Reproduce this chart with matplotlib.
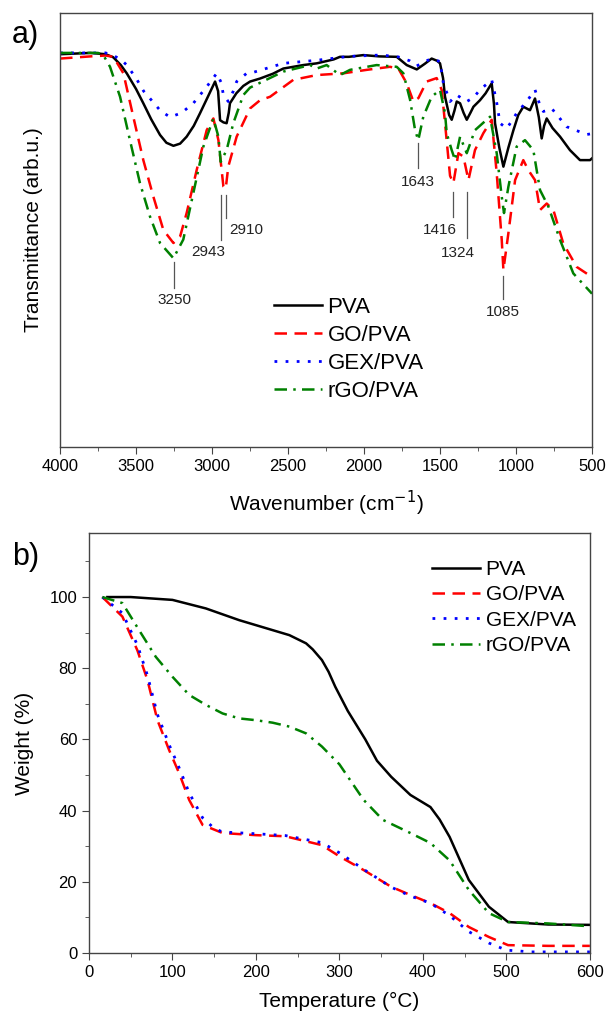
import matplotlib
matplotlib.use('Agg')
import matplotlib.pyplot as plt
from matplotlib.ticker import MultipleLocator, NullLocator

plt.rcParams['font.family'] = ['Liberation Sans', 'DejaVu Sans']

# ---- FTIR spectra (a) : wavenumber, transmittance (arb.u.)
pva_wn = [4000, 3800, 3700, 3650, 3600, 3561, 3500, 3452, 3400, 3342, 3300, 3254, 3210, 3167,
          3120, 3079, 3030, 2980, 2960, 2947, 2925, 2904, 2890, 2882, 2840, 2794, 2750, 2684,
          2600, 2531, 2400, 2311, 2200, 2158, 2100, 2004, 1900, 1785, 1719, 1653, 1600, 1555,
          1520, 1500, 1480, 1467, 1440, 1423, 1405, 1390, 1368, 1345, 1324, 1300, 1280, 1237,
          1200, 1160, 1145, 1138, 1110, 1083, 1050, 1017, 985, 952, 908, 875, 850, 831, 815,
          798, 760, 710, 645, 579, 513, 500]
pva_tr = [90.5, 90.8, 90.5, 89.8, 88.0, 86.1, 82.5, 79.2, 75.5, 71.9, 70.1, 69.4, 69.9, 71.5,
          74.0, 76.9, 80.5, 84.2, 82.0, 75.3, 74.8, 74.6, 77.0, 79.2, 81.5, 83.2, 84.2, 84.9,
          86.0, 87.2, 88.0, 88.4, 89.3, 89.9, 89.9, 90.3, 90.0, 89.9, 88.0, 87.0, 88.3, 89.5,
          89.0, 88.4, 85.0, 80.7, 76.5, 75.4, 77.5, 79.6, 79.2, 77.0, 75.4, 77.0, 78.4, 79.9,
          81.5, 83.8, 79.0, 74.6, 69.0, 64.6, 69.0, 73.0, 76.5, 78.4, 77.6, 80.3, 76.0, 71.1, 74.0,
          75.7, 73.5, 71.5, 68.4, 66.1, 66.1, 66.5]

go_wn = [4000, 3800, 3700, 3649, 3583, 3518, 3452, 3386, 3320, 3254, 3210, 3167, 3101, 3035,
         2991, 2958, 2925, 2910, 2893, 2838, 2750, 2684, 2618, 2465, 2311, 2136, 1982, 1829,
         1774, 1719, 1675, 1642, 1588, 1522, 1489, 1467, 1434, 1412, 1379, 1346, 1313, 1270,
         1215, 1160, 1127, 1094, 1083, 1050, 1006, 952, 919, 875, 842, 798, 754, 689, 601, 502, 500]
go_tr = [89.5, 90.0, 90.2, 89.9, 86.1, 76.1, 66.1, 57.7, 50.0, 47.0, 48.5, 53.9, 63.8, 73.0,
         75.7, 70.7, 60.0, 59.5, 64.6, 71.5, 78.0, 79.9, 80.7, 84.6, 85.7, 86.1, 86.9, 87.6,
         87.2, 83.8, 79.6, 80.4, 84.2, 85.0, 82.3, 74.6, 62.5, 60.8, 67.7, 66.9, 61.5, 68.4,
         72.3, 75.4, 63.1, 47.8, 40.8, 49.3, 61.5, 66.1, 63.8, 61.5, 54.6, 56.1, 54.6, 46.9, 41.5, 39.2, 39.0]

gex_wn = [4000, 3700, 3650, 3600, 3561, 3500, 3450, 3408, 3340, 3276, 3200, 3123, 3035, 2969,
          2940, 2925, 2893, 2860, 2838, 2772, 2750, 2531, 2311, 2100, 1900, 1785, 1700, 1653,
          1600, 1555, 1500, 1478, 1434, 1390, 1324, 1280, 1237, 1160, 1130, 1105, 1061, 1030,
          996, 930, 875, 845, 820, 765, 667, 535, 500]
gex_tr = [90.8, 90.8, 90.2, 89.3, 88.0, 85.0, 82.0, 80.3, 77.5, 76.0, 77.0, 79.2, 83.0, 86.1,
          84.0, 81.1, 79.6, 82.0, 84.2, 86.1, 86.1, 88.4, 89.1, 90.0, 90.3, 90.0, 89.0, 87.8,
          88.8, 89.5, 88.8, 83.8, 79.6, 81.1, 79.6, 80.5, 82.3, 84.6, 80.0, 74.6, 73.4, 75.0,
          76.9, 79.6, 82.3, 79.0, 77.3, 78.0, 73.8, 72.0, 72.2]

rgo_wn = [4000, 3750, 3715, 3671, 3605, 3540, 3474, 3408, 3342, 3254, 3189, 3123, 3057, 2991,
          2958, 2943, 2904, 2860, 2794, 2750, 2531, 2355, 2311, 2246, 2158, 2092, 1917, 1785,
          1741, 1697, 1664, 1643, 1610, 1555, 1500, 1467, 1456, 1423, 1401, 1368, 1324, 1270,
          1171, 1127, 1094, 1079, 1050, 996, 941, 886, 842, 787, 710, 623, 502, 500]
rgo_tr = [90.8, 90.8, 90.3, 87.6, 80.7, 70.7, 60.8, 53.1, 47.0, 43.5, 47.8, 58.5, 69.2, 75.7,
          71.5, 65.7, 68.4, 74.6, 81.1, 82.8, 86.5, 88.0, 87.2, 88.0, 85.7, 86.9, 88.0, 87.6,
          86.1, 80.0, 73.0, 70.7, 76.1, 80.7, 82.3, 76.9, 72.3, 68.4, 66.1, 71.5, 67.7, 73.0,
          76.1, 67.7, 57.7, 53.9, 60.0, 69.2, 70.7, 68.4, 59.2, 55.4, 47.7, 40.0, 35.4, 35.3]

# peak markers: label, line start/end, text position
peak_labels = ['3250', '2943', '2910', '1643', '1416', '1324', '1085']
peak_wn = [3250, 2943, 2910, 1643, 1416, 1324, 1085]
peak_top = [42.6, 58.1, 58.1, 70.0, 58.8, 58.8, 39.4]
peak_bot = [36.6, 47.7, 52.8, 64.3, 53.0, 48.2, 34.1]
label_wn = [3250, 3026, 2888, 1643, 1500, 1381, 1085]
label_y = [33.9, 44.9, 50.0, 61.1, 50.0, 44.7, 31.1]
label_ha = ['center', 'center', 'left', 'center', 'center', 'center', 'center']

# ---- TGA (b) : temperature, weight %
pva_t = [22, 50, 100, 140, 180, 220, 240, 260, 268, 279, 287, 295, 310, 331, 345, 362, 385,
         409, 420, 432, 455, 479, 502, 550, 600]
pva_w = [100, 100, 99.2, 96.8, 93.5, 90.7, 89.3, 87, 85.3, 82.3, 79, 74.8, 68, 60, 54, 49.5,
         44.4, 41, 37.5, 32.6, 20.5, 13, 8.7, 8.0, 7.9]
go_t = [16, 40, 58, 70, 82, 96, 108, 120, 136, 160, 200, 235, 279, 301, 329, 362, 385, 409,
        432, 455, 479, 502, 550, 600]
go_w = [100, 94.5, 85, 76.7, 65.4, 57, 50.5, 43, 36, 33.7, 33.1, 32.8, 30.3, 27, 23.3, 18.6,
        16.3, 14, 11.2, 7.3, 4.5, 2.2, 2.0, 2.0]
gex_t = [16, 40, 58, 70, 82, 96, 108, 120, 136, 150, 160, 200, 235, 279, 301, 329, 362, 385,
         409, 432, 455, 479, 500, 530, 600]
gex_w = [100, 95.5, 86.5, 78, 67, 58.5, 52, 45, 38, 35, 34, 33.5, 33, 31, 28, 23.5, 18.5, 16,
         14, 10.5, 6, 2.8, 0.8, 0.3, 0.3]
rgo_t = [16, 40, 60, 80, 100, 120, 140, 160, 180, 200, 220, 240, 260, 279, 300, 329, 352, 385,
         409, 432, 455, 479, 502, 550, 600]
rgo_w = [100, 98.3, 90.7, 83.2, 77.6, 72.5, 69.7, 67.3, 65.9, 65.4, 64.7, 63.6, 61.7, 58, 53,
         43, 37.4, 33.7, 30.9, 26, 17.7, 11.2, 8.7, 8.3, 7.5]

names = ['PVA', 'GO/PVA', 'GEX/PVA', 'rGO/PVA']
colors = ['black', 'red', 'blue', 'green']
styles = [dict(ls='-', lw=1.8),
          dict(ls=(0, (5, 3)), lw=1.8),
          dict(ls=(0, (1, 3)), lw=2.0),
          dict(ls=(0, (5, 2.5, 1, 2.5)), lw=1.8)]

fig = plt.figure(figsize=(6.1, 10.15), dpi=100)
ax1 = fig.add_axes([0.0984, 0.5596, 0.8721, 0.4276])
ax2 = fig.add_axes([0.1459, 0.0611, 0.8211, 0.4138])

for wn, tr, n, c, s in zip([pva_wn, go_wn, gex_wn, rgo_wn], [pva_tr, go_tr, gex_tr, rgo_tr],
                           names, colors, styles):
    ax1.plot(wn, tr, color=c, label=n, **s)

for i in range(len(peak_labels)):
    ax1.plot([peak_wn[i], peak_wn[i]], [peak_bot[i], peak_top[i]], color='#555555', lw=0.9)
    ax1.text(label_wn[i], label_y[i], peak_labels[i], ha=label_ha[i], va='center',
             fontsize=11, color='#222222')

ax1.set_xlim(4000, 500)
ax1.set_ylim(0, 100)
ax1.xaxis.set_major_locator(MultipleLocator(500))
ax1.xaxis.set_minor_locator(MultipleLocator(250))
ax1.yaxis.set_major_locator(NullLocator())
ax1.set_xlabel('Wavenumber (cm$^{-1}$)', fontsize=15, labelpad=11)
ax1.set_ylabel('Transmittance (arb.u.)', fontsize=15, labelpad=12)
ax1.legend(loc='upper left', bbox_to_anchor=(0.385, 0.367), frameon=False, fontsize=16,
           handlelength=2.15, handletextpad=0.27, labelspacing=0.32, borderaxespad=0)
fig.text(0.02, 0.966, 'a)', fontsize=22, va='center')

for t, w, n, c, s in zip([pva_t, go_t, gex_t, rgo_t], [pva_w, go_w, gex_w, rgo_w],
                         names, colors, styles):
    ax2.plot(t, w, color=c, label=n, **s)

ax2.set_xlim(0, 600)
ax2.set_ylim(0, 118)
ax2.xaxis.set_major_locator(MultipleLocator(100))
ax2.xaxis.set_minor_locator(MultipleLocator(50))
ax2.yaxis.set_major_locator(MultipleLocator(20))
ax2.yaxis.set_minor_locator(MultipleLocator(10))
ax2.set_yticks([0, 20, 40, 60, 80, 100])
ax2.set_xlabel('Temperature (°C)', fontsize=15, labelpad=9)
ax2.set_ylabel('Weight (%)', fontsize=15, labelpad=11)
ax2.legend(loc='upper left', bbox_to_anchor=(0.669, 0.955), frameon=False, fontsize=15,
           handlelength=2.3, handletextpad=0.25, labelspacing=0.3, borderaxespad=0)
fig.text(0.02, 0.451, 'b)', fontsize=22, va='center')

for ax in (ax1, ax2):
    for sp in ax.spines.values():
        sp.set_color('#444444')
        sp.set_linewidth(1.0)
    ax.tick_params(which='both', direction='out', top=False, right=False, labelsize=12,
                   color='#444444')
    ax.tick_params(which='major', length=5)
    ax.tick_params(which='minor', length=3)

fig.savefig('out.png', dpi=100)
